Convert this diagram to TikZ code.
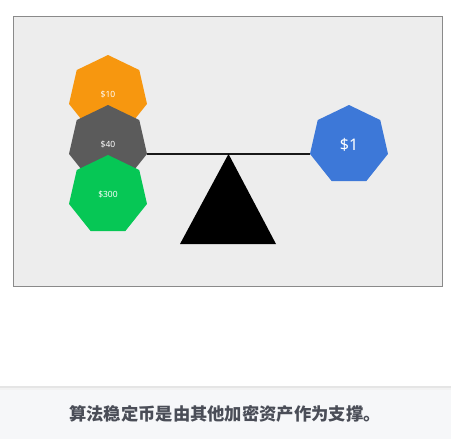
\documentclass[tikz,border=0pt]{standalone}
\usepackage{fontspec}
\setmainfont{Noto Sans}
\newfontfamily\cjk{Noto Sans CJK SC}
\usetikzlibrary{shapes.geometric}
\definecolor{panel}{HTML}{EDEDED}
\definecolor{frameline}{HTML}{8A8A8A}
\definecolor{corange}{HTML}{F7970F}
\definecolor{cgray}{HTML}{5B5B5B}
\definecolor{cgreen}{HTML}{06C755}
\definecolor{cblue}{HTML}{3D78D8}
\definecolor{capbg}{HTML}{F6F7F9}
\definecolor{captext}{HTML}{4A4D57}
\tikzset{
  coin/.style={regular polygon, regular polygon sides=7, minimum size=80pt,
    inner sep=0pt, draw=none, text=white, font=\fontsize{8.5}{10}\selectfont},
}
\begin{document}
\begin{tikzpicture}[x=1pt,y=-1pt]
\useasboundingbox (0,0) rectangle (451,439);
\fill[white] (0,0) rectangle (451,439);
% panel
\node[draw=frameline, line width=0.8pt, fill=panel, minimum width=429pt, minimum height=270pt,
  inner sep=0pt, anchor=north west] (panel) at (13,16) {};
% coins
\node[coin, fill=corange] (o10) at (108,95) {\$10};
\node[coin, fill=cgray] (g40) at (108,145) {\$40};
\node[coin, fill=cgreen] (g300) at (108,195) {\$300};
\node[coin, fill=cblue, font=\fontsize{16}{18}\selectfont] (b1) at (349,145) {\$1};
% beam
\draw[line width=2pt, black!90] (g40.corner 6) -- (b1.corner 3) coordinate[midway] (pivot);
% fulcrum
\coordinate (bl) at (180,244);
\coordinate (br) at (276,244);
\fill[black] (pivot) -- (br) -- (bl) -- cycle;
% caption bar
\fill[black!10] (0,386) rectangle (451,389);
\fill[black!5] (0,388) rectangle (451,390);
\node[fill=capbg, minimum width=451pt, minimum height=49pt, inner sep=0pt, anchor=north west] (capbar) at (0,390) {};
\node[font=\cjk\bfseries\fontsize{17.3}{19}\selectfont, text=captext] (cap) at (225,414) {算法稳定币是由其他加密资产作为支撑。};
\end{tikzpicture}
\end{document}
